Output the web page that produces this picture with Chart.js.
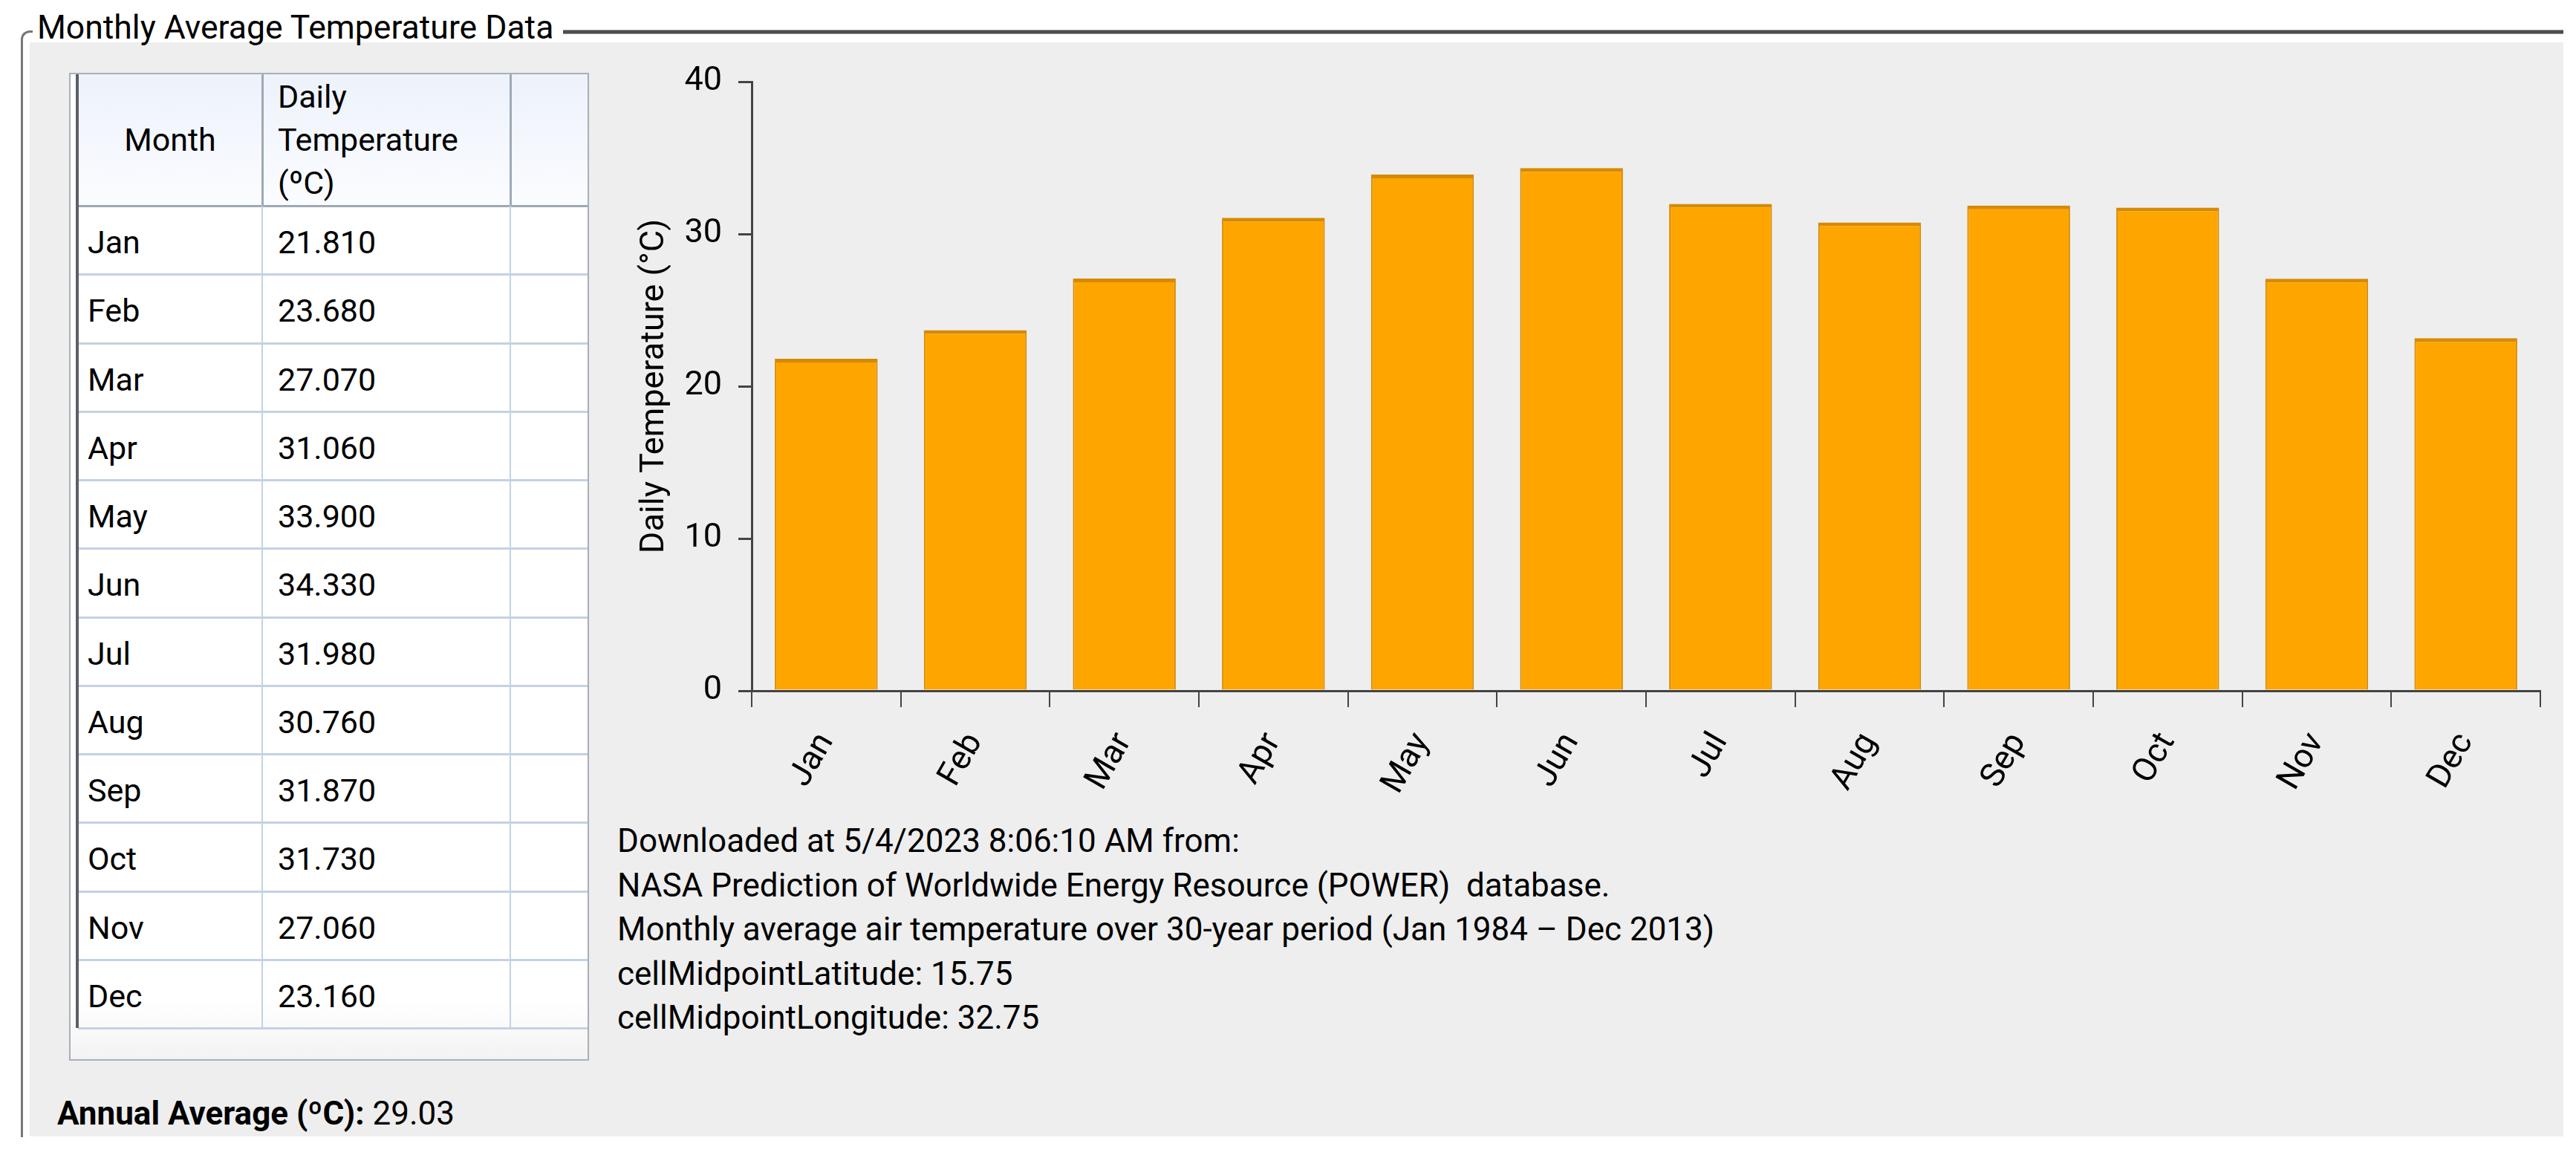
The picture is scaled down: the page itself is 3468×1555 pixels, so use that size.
<!DOCTYPE html>
<html>
<head>
<meta charset="utf-8">
<script src="https://cdn.jsdelivr.net/npm/chart.js@4.4.1/dist/chart.umd.min.js"></script>
<style>
  html, body { margin: 0; padding: 0; background: #ffffff; }
  body { width: 3468px; height: 1555px; position: relative; overflow: hidden;
         font-family: 'Segoe UI', Roboto, 'Open Sans', sans-serif; color: #000; }
  .abs { position: absolute; }
  #fill { left: 40px; top: 57px; width: 3411px; height: 1473px; background: #eeeeee; }
  #corner { left: 28px; top: 41px; width: 16px; height: 1490px; border-left: 3px solid #777; border-top: 3px solid #777; border-top-left-radius: 12px; box-sizing: border-box; }
  #topline { left: 758px; top: 40px; width: 2693px; height: 6px; background: #4d4d4d; border-top: 1px solid #999; border-bottom: 1px solid #999; box-sizing: border-box; }
  #title { left: 50px; top: 10px; font-size: 44.5px; line-height: 54px; white-space: nowrap; }
  #tbl { left: 93px; top: 98px; width: 700px; height: 1330px; border: 2px solid #a7b0ba; box-sizing: border-box;
         background: linear-gradient(#ffffff, #ffffff 94%, #f3f3f3); }
  #hdr { left: 105px; top: 100px; width: 686px; height: 177px; background: linear-gradient(#edf2fb, #fbfcff); }
  .hline { height: 2px; background: #c3d2e4; }
  .vline { width: 2px; background: #c3d2e4; }
  .cell { font-size: 43px; white-space: nowrap; line-height: 92px; }
  #foot { left: 831px; top: 1103px; font-size: 44px; line-height: 59.5px; white-space: pre; }
  #annual { left: 77px; top: 1470px; font-size: 44px; line-height: 58px; white-space: nowrap; }
  #chartBox { left: 820px; top: 60px; width: 2620px; height: 1040px; }
</style>
</head>
<body>
<div class="abs" id="fill"></div>
<div class="abs" id="corner"></div>
<div class="abs" id="topline"></div>
<div class="abs" id="title">Monthly Average Temperature Data</div>

<div class="abs" id="tbl"></div>
<div class="abs" id="hdr"></div>
<div id="tableLayer"></div>

<div class="abs" id="foot"></div>
<div class="abs" id="annual"></div>

<div class="abs" id="chartBox"><canvas id="c"></canvas></div>

<script>
// ---- data ----
const months = ['Jan','Feb','Mar','Apr','May','Jun','Jul','Aug','Sep','Oct','Nov','Dec'];
const dailyTemperature = [21.81, 23.68, 27.07, 31.06, 33.90, 34.33, 31.98, 30.76, 31.87, 31.73, 27.06, 23.16];
const yTicks = [0, 10, 20, 30, 40];
const yAxisTitle = 'Daily Temperature (°C)';
const tableHeaders = ['Month', 'Daily\nTemperature\n(ºC)'];
const footLines = [
  'Downloaded at 5/4/2023 8:06:10 AM from:',
  'NASA Prediction of Worldwide Energy Resource (POWER)  database.',
  'Monthly average air temperature over 30-year period (Jan 1984 \u2013 Dec 2013)',
  'cellMidpointLatitude: 15.75',
  'cellMidpointLongitude: 32.75'
];
const annualLabel = 'Annual Average (ºC):';

// ---- table ----
(function buildTable(){
  const layer = document.getElementById('tableLayer');
  const add = (cls, style, text) => {
    const d = document.createElement('div');
    d.className = 'abs ' + cls;
    Object.assign(d.style, style);
    if (text !== undefined) d.textContent = text;
    layer.appendChild(d);
    return d;
  };
  const rowTop = 277, rowH = 92.25;
  add('', {left:'105px', top:'276px', width:'686px', height:'3px', background:'#9ea9b5'});
  add('', {left:'352px', top:'100px', width:'3px', height:'177px', background:'#9ea9b5'});
  add('', {left:'686px', top:'100px', width:'3px', height:'177px', background:'#9ea9b5'});
  for (let i = 1; i <= months.length; i++) {
    add('hline', {left:'105px', top:(rowTop + i*rowH - 1) + 'px', width:'686px', height:'3px'});
  }
  add('vline', {left:'352px', top:rowTop+'px', height:(rowH*months.length)+'px'});
  add('vline', {left:'686px', top:rowTop+'px', height:(rowH*months.length)+'px'});
  add('', {left:'102px', top:'100px', width:'4px', height:(rowTop + rowH*months.length - 100)+'px', background:'#5b6068'});
  add('', {left:'105px', top:'100px', width:'248px', height:'177px', fontSize:'43px', lineHeight:'177px', textAlign:'center'}, tableHeaders[0]);
  add('', {left:'374px', top:'101px', fontSize:'43px', lineHeight:'58px', whiteSpace:'pre'}, tableHeaders[1]);
  months.forEach((m, i) => {
    const top = rowTop + i*rowH + 3;
    add('cell', {left:'118px', top: top+'px'}, m);
    add('cell', {left:'374px', top: top+'px'}, dailyTemperature[i].toFixed(3));
  });
})();

// ---- texts ----
document.getElementById('foot').textContent = footLines.join('\n');
(function(){
  const avg = dailyTemperature.reduce((a,b)=>a+b,0) / dailyTemperature.length;
  const el = document.getElementById('annual');
  const b = document.createElement('b'); b.textContent = annualLabel;
  el.appendChild(b);
  el.appendChild(document.createTextNode(' ' + avg.toFixed(2)));
})();

// ---- chart ----
const FONT = "'Segoe UI', Roboto, 'Open Sans', sans-serif";
new Chart(document.getElementById('c'), {
  type: 'bar',
  data: {
    labels: months,
    datasets: [{
      data: dailyTemperature,
      backgroundColor: '#FFA500',
      borderColor: '#D68A00',
      borderWidth: {top: 5, left: 2, right: 2, bottom: 0},
      borderSkipped: 'start',
      barPercentage: 0.69,
      categoryPercentage: 1.0
    }]
  },
  options: {
    responsive: true,
    maintainAspectRatio: false,
    devicePixelRatio: 1,
    animation: false,
    layout: { padding: { top: 50, right: 20, left: 0, bottom: 0 } },
    plugins: { legend: { display: false }, tooltip: { enabled: false } },
    scales: {
      x: {
        grid: { drawOnChartArea: false, drawTicks: true, tickLength: 22, color: '#444', lineWidth: 2, offset: true },
        border: { display: true, color: '#444', width: 3 },
        ticks: { color: '#000', font: { family: FONT, size: 45 }, minRotation: 60, maxRotation: 60, autoSkip: false, padding: 26 },
        afterFit: (s) => { s.height = 170; }
      },
      y: {
        min: yTicks[0],
        max: yTicks[yTicks.length - 1],
        afterBuildTicks: (s) => { s.ticks = yTicks.map(v => ({ value: v })); },
        grid: { drawOnChartArea: false, drawTicks: true, tickLength: 18, color: '#444', lineWidth: 3 },
        border: { display: true, color: '#444', width: 3 },
        ticks: { color: '#000', font: { family: FONT, size: 45 }, padding: 22 },
        title: { display: true, text: yAxisTitle, color: '#000', font: { family: FONT, size: 45 }, padding: { top: 35, bottom: 0 } },
        afterFit: (s) => { s.width = 192; }
      }
    }
  }
});
</script>
</body>
</html>
